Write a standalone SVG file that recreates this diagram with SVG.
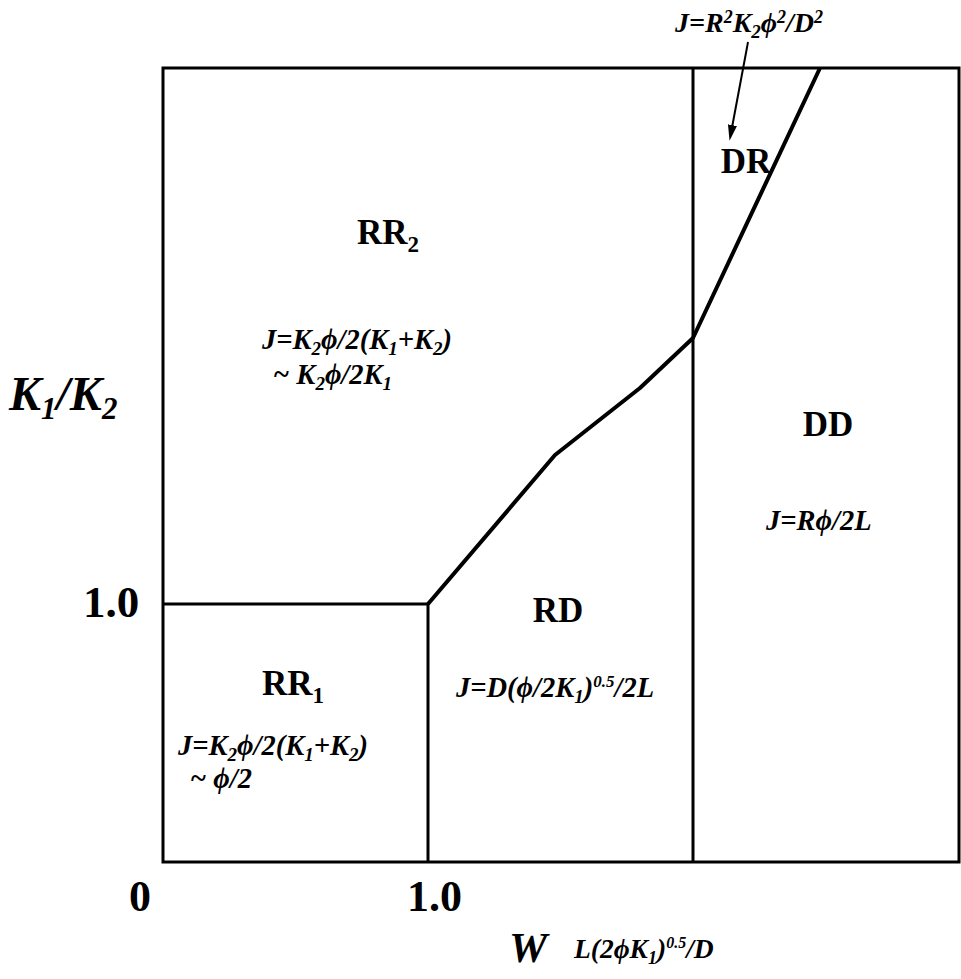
<svg xmlns="http://www.w3.org/2000/svg" width="961" height="979" viewBox="0 0 961 979">
<style>
.ln{fill:none;stroke:#000;stroke-width:3;stroke-linejoin:miter}
.bd{fill:none;stroke:#000;stroke-width:4;stroke-linejoin:round}
.b{font-family:"Liberation Serif","Times New Roman",serif;font-weight:bold;fill:#000}
.i{font-family:"Liberation Serif","Times New Roman",serif;font-weight:bold;font-style:italic;fill:#000}
</style>
<defs>
<marker id="ah" markerWidth="16" markerHeight="28" refX="14" refY="8" orient="auto" markerUnits="userSpaceOnUse" viewBox="0 0 28 16">
<path d="M0,0 L28,8 L0,16 Z" fill="#000"/>
</marker>
</defs>
<rect width="961" height="979" fill="#fff"/>
<g id="connectors">
<rect class="ln" x="163" y="68" width="796" height="794"/>
<line class="ln" x1="693" y1="68" x2="693" y2="862"/>
<polyline class="ln" points="163,604 428,604 428,862"/>
<polyline class="bd" points="428,604 555,455 640,388 693,338 820,68"/>
<line x1="748" y1="42" x2="731" y2="133" stroke="#000" stroke-width="2" marker-end="url(#ah)"/>
</g>
<g id="RR2"><text class="b" x="357" y="244" font-size="35">RR<tspan font-size="23" dy="8">2</tspan></text>
<text class="i" x="262" y="349" font-size="28.5">J=K<tspan font-size="19" dy="6">2</tspan><tspan dy="-6">ϕ/2(K</tspan><tspan font-size="19" dy="6">1</tspan><tspan dy="-6">+K</tspan><tspan font-size="19" dy="6">2</tspan><tspan dy="-6">)</tspan></text>
<text class="i" x="273" y="384" font-size="28.5">~ K<tspan font-size="19" dy="6">2</tspan><tspan dy="-6">ϕ/2K</tspan><tspan font-size="19" dy="6">1</tspan></text></g>
<g id="DR"><text class="b" x="746" y="173" font-size="35" text-anchor="middle">DR</text>
<text class="i" x="675" y="32" font-size="28">J=R<tspan font-size="18" dy="-9">2</tspan><tspan dy="9">K</tspan><tspan font-size="19" dy="6">2</tspan><tspan dy="-6">ϕ</tspan><tspan font-size="18" dy="-9">2</tspan><tspan dy="9">/D</tspan><tspan font-size="18" dy="-9">2</tspan></text></g>
<g id="DD"><text class="b" x="828" y="436" font-size="35" text-anchor="middle">DD</text>
<text class="i" x="766" y="530" font-size="28.5">J=Rϕ/2L</text></g>
<g id="RD"><text class="b" x="558" y="622" font-size="35" text-anchor="middle">RD</text>
<text class="i" x="456" y="697" font-size="28.5">J=D(ϕ/2K<tspan font-size="19" dy="6">1</tspan><tspan dy="-6">)</tspan><tspan font-size="17" dy="-10">0.5</tspan><tspan dy="10">/2L</tspan></text></g>
<g id="RR1"><text class="b" x="262" y="695" font-size="35">RR<tspan font-size="23" dy="8">1</tspan></text>
<text class="i" x="178" y="755" font-size="28.5">J=K<tspan font-size="19" dy="6">2</tspan><tspan dy="-6">ϕ/2(K</tspan><tspan font-size="19" dy="6">1</tspan><tspan dy="-6">+K</tspan><tspan font-size="19" dy="6">2</tspan><tspan dy="-6">)</tspan></text>
<text class="i" x="190" y="788" font-size="28.5">~ ϕ/2</text></g>
<g id="axes">
<text class="i" x="9" y="410" font-size="48">K<tspan font-size="31" dy="9">1</tspan><tspan dy="-9">/K</tspan><tspan font-size="31" dy="9">2</tspan></text>
<text class="b" x="83" y="617" font-size="45">1.0</text>
<text class="b" x="129" y="911" font-size="44">0</text>
<text class="b" x="407" y="911" font-size="44">1.0</text>
<text class="i" x="509" y="962" font-size="43">W</text>
<text class="i" x="574" y="958" font-size="27.5">L(2ϕK<tspan font-size="18" dy="6">1</tspan><tspan dy="-6">)</tspan><tspan font-size="16" dy="-10">0.5</tspan><tspan dy="10">/D</tspan></text>
</g>
</svg>
